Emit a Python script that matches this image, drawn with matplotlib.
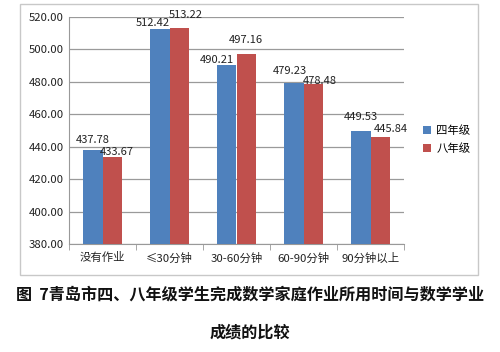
import matplotlib
matplotlib.use("Agg")
import matplotlib.pyplot as plt
import numpy as np
from matplotlib.patches import Rectangle

plt.rcParams['font.family'] = ['Noto Sans CJK SC', 'DejaVu Sans']

categories = ["没有作业", "≤30分钟", "30-60分钟", "60-90分钟", "90分钟以上"]
grade4 = [437.78, 512.42, 490.21, 479.23, 449.53]
grade8 = [433.67, 513.22, 497.16, 478.48, 445.84]
series_names = ["四年级", "八年级"]
yticks = [380, 400, 420, 440, 460, 480, 500, 520]

# label nudges (pixels) to mimic the reference's label placement
off4 = [(0, 10), (-7, 6), (-10, 5), (-4, 12), (0, 14)]
off8 = [(5, 5), (7, 13), (0, 14), (7, 3), (11, 8)]

fig = plt.figure(figsize=(5.0, 3.52), dpi=100)
fig.patches.append(Rectangle((0.04, 0.219), 0.916, 0.77, transform=fig.transFigure,
                             fill=False, edgecolor='#c8c8c8', linewidth=1.0))
ax = fig.add_axes([0.138, 0.3068, 0.670, 0.6449])

x = np.arange(len(categories))
w = 0.285
c4 = '#4F81BD'
c8 = '#C0504D'
b1 = ax.bar(x - w/2, grade4, w, color=c4, label=series_names[0], zorder=3)
b2 = ax.bar(x + w/2, grade8, w, color=c8, label=series_names[1], zorder=3)

pt = 72 / 100.0
for bars, vals, offs in ((b1, grade4, off4), (b2, grade8, off8)):
    for b, v, (dx, dy) in zip(bars, vals, offs):
        ax.annotate(f"{v:.2f}", (b.get_x() + b.get_width()/2, v), xytext=(dx * pt, dy * pt),
                    textcoords='offset points', ha='center', va='center', fontsize=8,
                    color='#222222', zorder=5)

ax.set_ylim(380, 520)
ax.set_xlim(-0.5, len(categories) - 0.5)
ax.set_yticks(yticks)
ax.set_yticklabels([f"{v:.2f}" for v in yticks], fontsize=8.2, color='#222222')
ax.set_xticks(x)
ax.set_xticklabels(categories, fontsize=8.2, color='#222222')
ax.tick_params(axis='x', length=0, pad=6)
ax.tick_params(axis='y', length=0, pad=4)
ax.set_xticks(np.arange(-0.5, len(categories)), minor=True)
ax.tick_params(axis='x', which='minor', length=4, color='#999999', direction='out')

ax.yaxis.grid(True, color='#9a9a9a', linewidth=0.9, zorder=0)
for s in ['top', 'right']:
    ax.spines[s].set_visible(False)
ax.spines['left'].set_color('#999999')
ax.spines['bottom'].set_color('#999999')

leg = fig.legend(handles=[b1, b2], labels=series_names, loc='upper left',
                 bbox_to_anchor=(0.825, 0.672), frameon=False, fontsize=8.2,
                 handlelength=0.7, handleheight=0.7, handletextpad=0.5, labelspacing=0.6)

fig.text(0.5, 0.162, "图  7青岛市四、八年级学生完成数学家庭作业所用时间与数学学业",
         ha='center', va='center', fontsize=11.6, fontweight='bold', color='#111111')
fig.text(0.5, 0.054, "成绩的比较", ha='center', va='center', fontsize=11.6,
         fontweight='bold', color='#111111')

fig.savefig("out.png", dpi=100)
